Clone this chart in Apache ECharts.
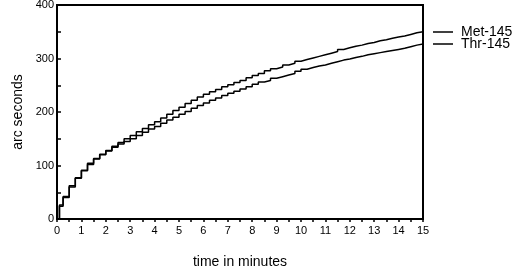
<!DOCTYPE html>
<html>
<head>
<meta charset="utf-8">
<script src="https://cdn.jsdelivr.net/npm/echarts@6/dist/echarts.min.js"></script>
<style>
  html, body { margin: 0; padding: 0; background: #fff; }
  #chart { width: 520px; height: 270px; }
</style>
</head>
<body>
<div id="chart"></div>
<script>
// tiempos (minutos) y lecturas (arc seconds)
const times = [0, 0.1, 0.25, 0.5, 0.75, 1, 1.25, 1.5, 1.75, 2, 2.25, 2.5, 2.75, 3, 3.25, 3.5, 3.75,
  4, 4.25, 4.5, 4.75, 5, 5.25, 5.5, 5.75, 6, 6.25, 6.5, 6.75, 7, 7.25, 7.5, 7.75,
  8, 8.25, 8.5, 8.75, 9, 9.25, 9.5, 9.75, 10, 10.25, 10.5, 10.75, 11, 11.25, 11.5, 11.75,
  12, 12.25, 12.5, 12.75, 13, 13.25, 13.5, 13.75, 14, 14.25, 14.5, 14.75, 15];
const met145 = [0, 26, 42, 62, 77, 91, 104, 113, 121, 128, 136, 143, 150, 156, 163, 169, 176,
  182, 189, 196, 203, 209, 216, 222, 228, 233, 238, 242, 247, 251, 255, 259, 264,
  268, 272, 277, 281, 284, 288, 291, 295, 298, 301, 304, 307, 310, 313, 317, 320,
  323, 325, 328, 330, 333, 335, 338, 340, 342, 345, 348, 350, 350];
const thr145 = [0, 24, 40, 60, 76, 90, 102, 112, 120, 127, 134, 140, 145, 150, 156, 162, 168,
  173, 179, 185, 190, 196, 201, 207, 212, 217, 222, 226, 231, 235, 239, 243, 247,
  252, 256, 259, 263, 266, 269, 272, 276, 280, 283, 286, 288, 291, 294, 297, 299,
  302, 304, 307, 309, 311, 313, 315, 317, 319, 322, 325, 327, 329];
const seriesNames = ['Met-145', 'Thr-145'];

const chart = echarts.init(document.getElementById('chart'));
const font = 'Liberation Sans, Arial, sans-serif';

function legendAt(name, top) {
  return {
    data: [name],
    left: 433,
    top: top,
    itemWidth: 20,
    itemHeight: 1.5,
    itemGap: 0,
    icon: 'rect',
    padding: 0,
    selectedMode: false,
    textStyle: { fontFamily: font, fontSize: 14, color: '#000', padding: [0, 0, 0, 3] }
  };
}

chart.setOption({
  backgroundColor: '#fff',
  animation: false,
  grid: {
    left: 57, right: 97, top: 5, bottom: 51,
    outerBoundsMode: 'none',
    show: true, borderColor: '#000', borderWidth: 2
  },
  legend: [legendAt(seriesNames[0], 25), legendAt(seriesNames[1], 37)],
  xAxis: {
    type: 'value',
    min: 0, max: 15, interval: 0.5,
    name: 'time in minutes',
    nameLocation: 'middle',
    nameGap: 36,
    nameTextStyle: { fontFamily: font, fontSize: 14, color: '#000' },
    axisLine: { lineStyle: { color: '#000', width: 2 } },
    axisTick: { show: true, length: 3, lineStyle: { color: '#000', width: 1.5 } },
    axisLabel: {
      fontFamily: font, fontSize: 11, color: '#000', margin: 6,
      formatter: v => (v % 1 === 0 ? String(v) : '')
    },
    splitLine: { show: false }
  },
  yAxis: {
    type: 'value',
    min: 0, max: 400, interval: 50,
    name: 'arc seconds',
    nameLocation: 'middle',
    nameGap: 31,
    nameTextStyle: { fontFamily: font, fontSize: 14, color: '#000' },
    axisLine: { lineStyle: { color: '#000', width: 2 } },
    axisTick: { show: true, inside: true, length: 4, lineStyle: { color: '#000', width: 1.5 } },
    axisLabel: {
      fontFamily: font, fontSize: 11, color: '#000', margin: 3,
      formatter: v => (v % 100 === 0 ? String(v) : '')
    },
    splitLine: { show: false }
  },
  series: [
    {
      name: seriesNames[0],
      type: 'line',
      step: 'end',
      showSymbol: false,
      color: '#000',
      lineStyle: { color: '#000', width: 1.5 },
      data: times.map((t, i) => [t, met145[i]])
    },
    {
      name: seriesNames[1],
      type: 'line',
      step: 'end',
      showSymbol: false,
      color: '#000',
      lineStyle: { color: '#000', width: 1.5 },
      data: times.map((t, i) => [t, thr145[i]])
    }
  ]
});
</script>
</body>
</html>
